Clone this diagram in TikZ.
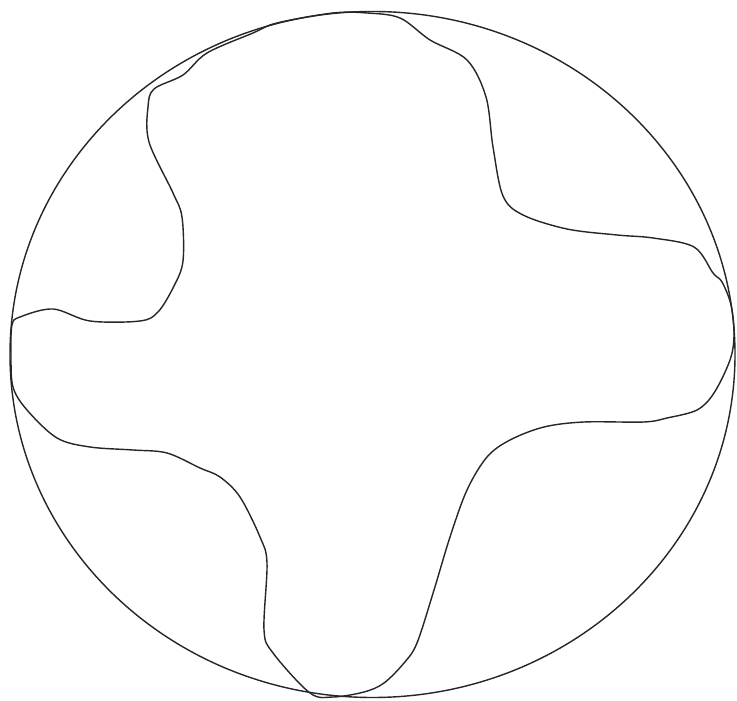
\documentclass[tikz,border=0pt]{standalone}
\usepackage{tikz}

\begin{document}
\begin{tikzpicture}[x=0.01cm, y=-0.01cm, line cap=round, line join=round]
		\useasboundingbox (0,0) rectangle (737,701);
		% outer circle
		\draw [black!85, line width=0.4pt] (372.5,354.5) ellipse (362.5 and 343);
		% cross shaped region
		\draw [black!85, line width=0.4pt] plot [smooth cycle, tension=0.55] coordinates {
			(12,325) (20,317) (53,309) (90,321) (140,321) (158,312) (174,286) (183,261)
			(182,217) (173,193) (149,142) (148,107) (154,89) (183,75) (207,53) (253,33)
			(277,23) (333,13) (367,13) (400,18) (430,40) (467,60) (486,97) (493,147)
			(503,196) (523,215) (567,229) (617,235) (653,238) (694,247) (713,273) (722,282)
			(731,305) (734,335) (730,360) (714,393) (697,410) (667,418) (644,422) (584,422)
			(544,427) (510,440) (487,457) (467,490) (450,537) (434,590) (417,643) (404,663)
			(384,683) (364,692) (333,697) (310,693) (273,653) (264,630) (267,563) (260,537)
			(240,497) (220,477) (200,468) (167,453) (133,450) (90,447) (57,438) (27,410)
			(13,387) (11,355)};
\end{tikzpicture}
\end{document}
